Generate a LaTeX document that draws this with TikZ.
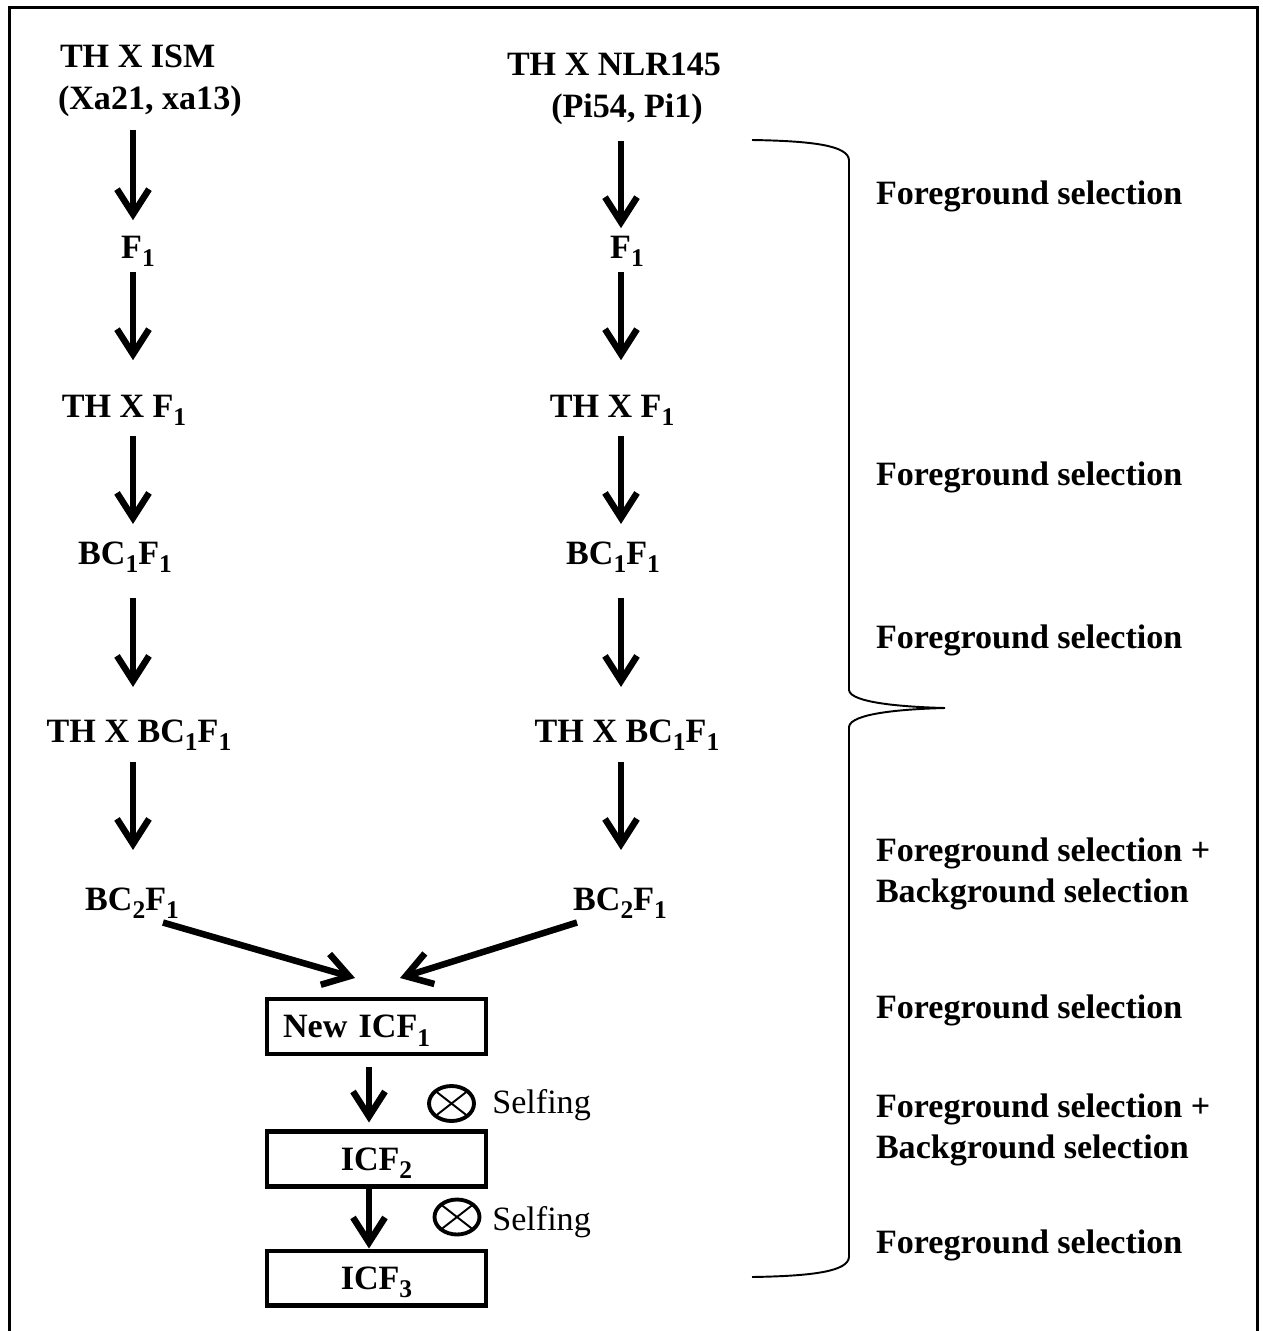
\documentclass[tikz,border=0pt]{standalone}
\usepackage{fontspec}
\setmainfont{Liberation Serif}
\usepackage{tikz}
\newcommand{\sub}[1]{\raisebox{-0.25em}{\fontsize{14.5}{14.5}\selectfont #1}}
\tikzset{gen node/.style={font=\fontsize{19.4}{22.8}\selectfont\bfseries,inner sep=0pt,outer sep=0pt,anchor=base},
sel node/.style={gen node,anchor=base west,align=left},
icf node/.style={draw,line width=2.3pt,minimum width=4.38cm,minimum height=1.1cm,inner sep=0pt,text depth=0pt,font=\fontsize{19.4}{22.8}\selectfont\bfseries},
self node/.style={ellipse,draw,line width=2.2pt,minimum width=0.9cm,minimum height=0.7cm,inner sep=0pt,
  path picture={\draw[line width=1.1pt] (path picture bounding box.north west) -- (path picture bounding box.south east)
  (path picture bounding box.north east) -- (path picture bounding box.south west);}},
flow/.style={line width=3.7pt,-{Straight Barb[length=0.5cm,width=0.64cm]}},
}
\usetikzlibrary{positioning,arrows.meta,shapes.geometric}

\begin{document}
\begin{tikzpicture}[x=0.02cm,y=-0.02cm]
			\useasboundingbox (0,0) rectangle (1262,1331);
			\draw[line width=1.7pt] (9.5,1345) |- (1257.5,7.5) -- (1257.5,1345);
			
			%% columns
			\coordinate (cL) at (133,0);
			\coordinate (cR) at (621,0);
			\coordinate (cB) at (369,0);
			
			%% left cross
			\node[gen node,anchor=base west] (l0a) at (60,68) {TH X ISM};
			\node[gen node,anchor=base west] (l0b) at (58,110) {(Xa21, xa13)};
			\node[gen node] (l1) at (138,258) {F\sub{1}};
			\node[gen node] (l2) at (124,417) {TH X F\sub{1}};
			\node[gen node] (l3) at (125,564) {BC\sub{1}F\sub{1}};
			\node[gen node] (l4) at (139,742) {TH X BC\sub{1}F\sub{1}};
			\node[gen node] (l5) at (132,910) {BC\sub{2}F\sub{1}};
			
			%% right cross
			\node[gen node] (r0a) at (614,76) {TH X NLR145};
			\node[gen node] (r0b) at (627,118) {(Pi54, Pi1)};
			\node[gen node] (r1) at (627,258) {F\sub{1}};
			\node[gen node] (r2) at (612,417) {TH X F\sub{1}};
			\node[gen node] (r3) at (613,564) {BC\sub{1}F\sub{1}};
			\node[gen node] (r4) at (627,742) {TH X BC\sub{1}F\sub{1}};
			\node[gen node] (r5) at (620,910) {BC\sub{2}F\sub{1}};
			
			%% intercross
			\node[icf node,text width=3.74cm,inner xsep=0.32cm,align=left] (icf1) at (376.5,1026.5) {New ICF\sub{1}};
			\node[icf node] (icf2) at (376.5,1159) {ICF\sub{2}};
			\node[icf node] (icf3) at (376.5,1278) {ICF\sub{3}};
			\node[self node] (x1) at (451.5,1103.5) {};
			\node[self node] (x2) at (457,1217) {};
			\node[anchor=base west,inner sep=0pt,font=\fontsize{19.4}{22.8}\selectfont] (s1) at (492,1113) {Selfing};
			\node[anchor=base west,inner sep=0pt,font=\fontsize{19.4}{22.8}\selectfont] (s2) at (492,1230) {Selfing};
			
			\path[flow]
			(l0b.south -| cL) edge[shorten <=0.26cm,shorten >=0.31cm] (l1.north -| cL)
			(l1.south -| cL) edge[shorten <=0.11cm,shorten >=0.69cm] (l2.north -| cL)
			(l2.south -| cL) edge[shorten <=0.21cm,shorten >=0.35cm] (l3.north -| cL)
			(l3.south -| cL) edge[shorten <=0.51cm,shorten >=0.65cm] (l4.north -| cL)
			(l4.south -| cL) edge[shorten <=0.23cm,shorten >=0.75cm] (l5.north -| cL)
			(r0b.south -| cR) edge[shorten <=0.32cm,shorten >=0.15cm] (r1.north -| cR)
			(r1.south -| cR) edge[shorten <=0.11cm,shorten >=0.69cm] (r2.north -| cR)
			(r2.south -| cR) edge[shorten <=0.21cm,shorten >=0.35cm] (r3.north -| cR)
			(r3.south -| cR) edge[shorten <=0.51cm,shorten >=0.65cm] (r4.north -| cR)
			(r4.south -| cR) edge[shorten <=0.23cm,shorten >=0.75cm] (r5.north -| cR)
			([xshift=0.62cm,yshift=-0.08cm]l5.south) edge ([xshift=-0.43cm,yshift=0.38cm]icf1.north)
			([xshift=-0.86cm,yshift=-0.08cm]r5.south) edge ([xshift=0.47cm,yshift=0.38cm]icf1.north)
			(icf1.south -| cB) edge[shorten <=0.22cm,shorten >=0.14cm] (icf2.north -| cB)
			(icf2.south -| cB) edge (icf3.north -| cB)
			;
			
			%% brace
			\draw[line width=1.1pt] (752,140) .. controls (815,141) and (848,146) .. (849,160) -- (849,690)
			.. controls (850,703) and (905,707) .. (945,708) .. controls (905,709) and (850,713) .. (849,727)
			-- (849,1257) .. controls (848,1271) and (815,1276) .. (752,1277);
			
			%% selection steps
			\node[sel node] (g1) at (876,205) {Foreground selection};
			\node[sel node] (g2) at (876,485) {Foreground selection};
			\node[sel node] (g3) at (876,648) {Foreground selection};
			\node[sel node] (g4) at (876,902) {Foreground selection +\\Background selection};
			\node[sel node] (g5) at (876,1018) {Foreground selection};
			\node[sel node] (g6) at (876,1158) {Foreground selection +\\Background selection};
			\node[sel node] (g7) at (876,1253) {Foreground selection};
			\end{tikzpicture}
\end{document}
